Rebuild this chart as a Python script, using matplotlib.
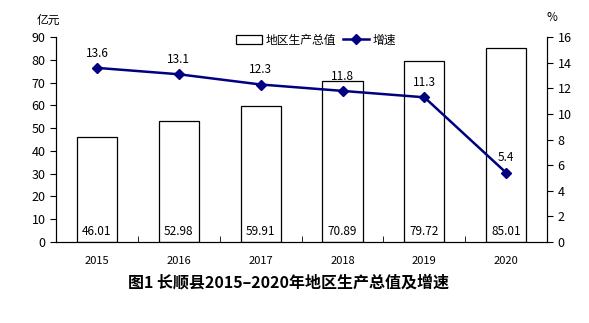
import numpy as np
import matplotlib
matplotlib.use("Agg")
import matplotlib.pyplot as plt
from matplotlib.lines import Line2D
from matplotlib.patches import Patch

plt.rcParams['font.family'] = ['Noto Sans CJK SC', 'DejaVu Sans']

years = ["2015", "2016", "2017", "2018", "2019", "2020"]
gdp = [46.01, 52.98, 59.91, 70.89, 79.72, 85.01]      # 亿元
growth = [13.6, 13.1, 12.3, 11.8, 11.3, 5.4]          # %

fig = plt.figure(figsize=(5.89, 3.23), dpi=100)
ax = fig.add_axes([0.095, 0.251, 0.834, 0.634])
x = np.arange(len(years))

ax.bar(x, gdp, width=0.49, color="white", edgecolor="black", linewidth=0.9, zorder=2)
for xi, v in zip(x, gdp):
    ax.text(xi, 4.5, f"{v:.2f}", ha="center", va="center", fontsize=8.5)

ax.set_xlim(-0.5, len(years) - 0.5)
ax.set_ylim(0, 90)
ax.set_yticks(range(0, 91, 10))
ax.set_xticks(x)
ax.set_xticklabels(years, fontsize=8)
ax.set_xticks(x[:-1] + 0.5, minor=True)
ax.tick_params(axis="x", which="major", length=0, pad=10)
ax.tick_params(axis="x", which="minor", direction="in", length=4)
ax.tick_params(axis="y", labelsize=9, length=4)
ax.spines["top"].set_visible(False)

ax2 = ax.twinx()
ax2.plot(x, growth, color="#000080", linewidth=1.8, marker="D", markersize=5.5, zorder=3)
for xi, v in zip(x, growth):
    ax2.annotate(f"{v}", (xi, v), xytext=(0, 6), textcoords="offset points",
                 ha="center", va="bottom", fontsize=8.5)
ax2.set_ylim(0, 16)
ax2.set_yticks(range(0, 17, 2))
ax2.tick_params(axis="y", labelsize=9, length=4)
ax2.spines["top"].set_visible(False)

fig.text(0.082, 0.938, "亿元", ha="center", va="center", fontsize=8.5)
fig.text(0.937, 0.947, "%", ha="center", va="center", fontsize=8.5)

handles = [Patch(facecolor="white", edgecolor="black", linewidth=0.9),
           Line2D([0], [0], color="#000080", linewidth=1.8, marker="D", markersize=5.5)]
fig.legend(handles, ["地区生产总值", "增速"], loc="center", bbox_to_anchor=(0.537, 0.876),
           ncol=2, frameon=False, fontsize=8.5, handlelength=2.2, handletextpad=0.3,
           columnspacing=0.6)

fig.text(0.49, 0.124, "图1 长顺县2015–2020年地区生产总值及增速", ha="center", va="center",
         fontsize=11.5, fontweight="bold")

fig.savefig("out.png", dpi=100)
